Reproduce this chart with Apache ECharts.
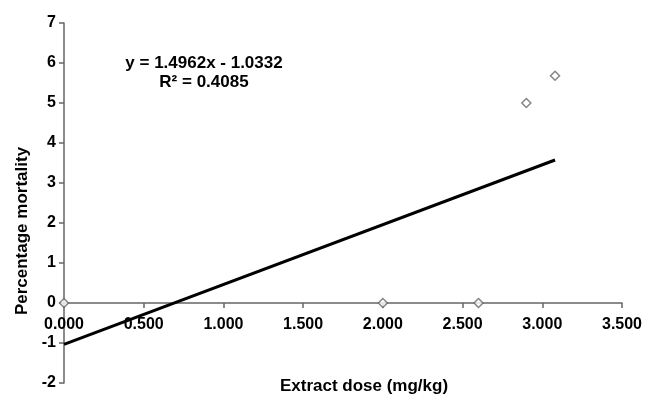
<!DOCTYPE html>
<html>
<head>
<meta charset="utf-8">
<script src="https://cdn.jsdelivr.net/npm/echarts@6/dist/echarts.min.js"></script>
<style>
  html, body { margin: 0; padding: 0; background: #fff; }
  #root { width: 647px; height: 397px; }
</style>
</head>
<body>
<div id="root"></div>
<script>
// dose values (mg/kg) and measured mortality
var doseX = [0, 2.0, 2.6, 2.9, 3.08];
var mortalityY = [0, 0, 0, 5.0, 5.68];
// linear trendline from the chart
var trendSlope = 1.4962;
var trendIntercept = -1.0332;
var trendText = ['y = 1.4962x - 1.0332', 'R² = 0.4085'];

var FONT = 'Liberation Sans, Arial, sans-serif';
var Y_MIN = -2, Y_MAX = 7;
var GRID_TOP = 23, GRID_BOTTOM = 14;

var points = doseX.map(function (x, i) { return [x, mortalityY[i]]; });
var xStart = 0, xEnd = Math.max.apply(null, doseX);
var trend = [
  [xStart, trendSlope * xStart + trendIntercept],
  [xEnd, trendSlope * xEnd + trendIntercept]
];

// x axis sits on y = 0, moved up from the bottom of the grid
var plotH = 397 - GRID_TOP - GRID_BOTTOM;
var zeroOffset = -plotH * (0 - Y_MIN) / (Y_MAX - Y_MIN);

var myChart = echarts.init(document.getElementById('root'));
var option = {
  animation: false,
  backgroundColor: '#fff',
  grid: { left: 64, right: 25, top: GRID_TOP, bottom: GRID_BOTTOM, outerBoundsMode: 'none' },
  xAxis: {
    type: 'value',
    min: 0, max: 3.5, interval: 0.5,
    offset: zeroOffset,
    axisLine: { onZero: false, lineStyle: { color: '#666', width: 1.5 } },
    axisTick: { show: true, length: 5, lineStyle: { color: '#666', width: 1.5 } },
    axisLabel: {
      color: '#000', fontFamily: FONT, fontWeight: 'bold', fontSize: 16, margin: 14,
      formatter: function (v) { return v.toFixed(3); }
    },
    splitLine: { show: false }
  },
  yAxis: {
    type: 'value',
    min: Y_MIN, max: Y_MAX, interval: 1,
    axisLine: { show: true, onZero: false, lineStyle: { color: '#666', width: 1.5 } },
    axisTick: { show: true, length: 5, lineStyle: { color: '#666', width: 1.5 } },
    axisLabel: { color: '#000', fontFamily: FONT, fontWeight: 'bold', fontSize: 16, margin: 8 },
    splitLine: { show: false }
  },
  graphic: [
    {
      type: 'text', x: 204, y: 54,
      style: {
        text: trendText.join('\n'), fill: '#000', font: 'bold 17px ' + FONT,
        textAlign: 'center', lineHeight: 19
      }
    },
    {
      type: 'text', x: 22, y: 231, rotation: Math.PI / 2,
      style: {
        text: 'Percentage mortality', fill: '#000', font: 'bold 17px ' + FONT,
        textAlign: 'center', textVerticalAlign: 'middle'
      }
    },
    {
      type: 'text', x: 364, y: 386,
      style: {
        text: 'Extract dose (mg/kg)', fill: '#000', font: 'bold 17px ' + FONT,
        textAlign: 'center', textVerticalAlign: 'middle'
      }
    }
  ],
  series: [
    {
      type: 'line',
      data: trend,
      symbol: 'none',
      lineStyle: { color: '#000', width: 3 },
      z: 3
    },
    {
      type: 'scatter',
      data: points,
      symbol: 'diamond',
      symbolSize: 9,
      itemStyle: { color: '#fff', borderColor: '#666', borderWidth: 1.5 },
      z: 4
    }
  ]
};
myChart.setOption(option);
</script>
</body>
</html>
